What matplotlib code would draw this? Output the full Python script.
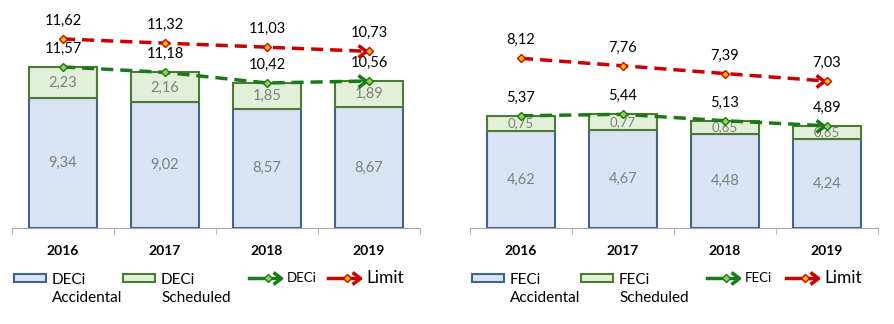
import matplotlib
matplotlib.use("Agg")
import matplotlib.pyplot as plt
from matplotlib.patches import Rectangle
from matplotlib.lines import Line2D
from matplotlib.path import Path

plt.rcParams['font.family'] = ['Lato', 'DejaVu Sans']

# Data
years = ['2016', '2017', '2018', '2019']
deci_accidental = [9.34, 9.02, 8.57, 8.67]
deci_scheduled = [2.23, 2.16, 1.85, 1.89]
deci_total = [11.57, 11.18, 10.42, 10.56]
deci_limit = [11.62, 11.32, 11.03, 10.73]
feci_accidental = [4.62, 4.67, 4.48, 4.24]
feci_scheduled = [0.75, 0.77, 0.65, 0.65]
feci_total = [5.37, 5.44, 5.13, 4.89]
feci_limit = [8.12, 7.76, 7.39, 7.03]

# Colours
ACC_FILL, ACC_EDGE = '#dae3f3', '#41648f'
SCH_FILL, SCH_EDGE = '#e2efd9', '#4f7a35'
GREEN, GREEN_MK = '#1a7a1a', '#92d050'
RED, RED_MK = '#cc0000', '#ffc000'
GREY_TXT = '#7f7f7f'

W, H = 895, 324

# open chevron that ends just short of the point it is drawn on
CHEVRON = Path([(-11, 6), (-3, 0), (-11, -6)],
               [Path.MOVETO, Path.LINETO, Path.LINETO])
CHEV_MS = 15.8


def fx(px):
    return px / W


def fy(py):
    return 1 - py / H


def fmt(v):
    return f"{v:.2f}".replace('.', ',')


def trend(ax, x, vals, color, mk):
    ax.plot(x, vals, linestyle='--', dashes=(3.5, 2), color=color, lw=2.5, zorder=4)
    ax.plot(x[-1:], vals[-1:], ls='none', marker=CHEVRON, ms=CHEV_MS, mfc='none',
            mec=color, mew=2.5, zorder=4)
    ax.plot(x, vals, ls='none', marker='D', ms=4, mfc=mk, mec=color, mew=1, zorder=5)
    for xi, v in zip(x, vals):
        ax.annotate(fmt(v), (xi, v), xytext=(0, 13), textcoords='offset points',
                    ha='center', va='center', fontsize=10.5, color='black', zorder=6)


def panel(left_px, acc, sch, tot, lim, ymax, lim_range, small_fs):
    ax = fig.add_axes([fx(left_px), 96 / H, 408 / W, 218 / H])
    x = list(range(len(years)))
    ax.bar(x, acc, width=0.67, color=ACC_FILL, edgecolor=ACC_EDGE, lw=1.5, zorder=2)
    ax.bar(x, sch, bottom=acc, width=0.67, color=SCH_FILL, edgecolor=SCH_EDGE, lw=1.5, zorder=2)
    for xi, a, s in zip(x, acc, sch):
        ax.text(xi, a / 2, fmt(a), ha='center', va='center', fontsize=10.5, color=GREY_TXT, zorder=3)
        ax.text(xi, a + s / 2, fmt(s), ha='center', va='center', fontsize=small_fs,
                color=GREY_TXT, zorder=3)
    trend(ax, x, tot, GREEN, GREEN_MK)

    ax.set_xlim(-0.5, len(years) - 0.5)
    ax.set_ylim(0, ymax)
    for side in ['top', 'left', 'right']:
        ax.spines[side].set_visible(False)
    ax.spines['bottom'].set_color('#a6a6a6')
    ax.set_yticks([])
    ax.set_xticks(x)
    ax.set_xticklabels(years, fontsize=10, fontweight='bold')
    ax.tick_params(axis='x', which='major', length=0, pad=12)
    ax.set_xticks([i - 0.5 for i in range(len(years) + 1)], minor=True)
    ax.tick_params(axis='x', which='minor', length=4, color='#a6a6a6')

    # limit series sits on its own scale
    ax2 = ax.twinx()
    ax2.set_ylim(*lim_range)
    ax2.axis('off')
    trend(ax2, x, lim, RED, RED_MK)
    return ax


def legend(left_px, name):
    rel = left_px - 12
    y = 278
    for x0, fill, edge, sub in [(14, ACC_FILL, ACC_EDGE, 'Accidental'),
                                (123, SCH_FILL, SCH_EDGE, 'Scheduled')]:
        fig.add_artist(Rectangle((fx(rel + x0), fy(y + 4)), 32 / W, 8 / H,
                                 facecolor=fill, edgecolor=edge, lw=1.5,
                                 transform=fig.transFigure))
        fig.text(fx(rel + x0 + 38), fy(y - 5), f"{name}\n{sub}", ha='left', va='top',
                 fontsize=11, linespacing=1.35)
    for x0, color, mk, label, fs in [(249, GREEN, GREEN_MK, name, 9.5),
                                     (328, RED, RED_MK, 'Limit', 12.5)]:
        fig.add_artist(Line2D([fx(rel + x0), fx(rel + x0 + 28)], [fy(y), fy(y)],
                              color=color, lw=2.5, transform=fig.transFigure))
        fig.add_artist(Line2D([fx(rel + x0 + 35)], [fy(y)], ls='none', marker=CHEVRON,
                              ms=CHEV_MS, mfc='none', mec=color, mew=2.5,
                              transform=fig.transFigure))
        fig.add_artist(Line2D([fx(rel + x0 + 19)], [fy(y)], ls='none', marker='D', ms=4,
                              mfc=mk, mec=color, mew=1, transform=fig.transFigure))
        fig.text(fx(rel + x0 + 38), fy(y), label, ha='left', va='center', fontsize=fs)


fig = plt.figure(figsize=(W / 100, H / 100), dpi=100)

panel(12, deci_accidental, deci_scheduled, deci_total, deci_limit,
      218 / 13.92, (-1.96, -1.96 + 218 / 13.92), 10.5)
panel(470, feci_accidental, feci_scheduled, feci_total, feci_limit,
      218 / 20.9, (0, 218 / 20.9), 9.5)
legend(12, 'DECi')
legend(470, 'FECi')

fig.savefig('out.png', dpi=100)
